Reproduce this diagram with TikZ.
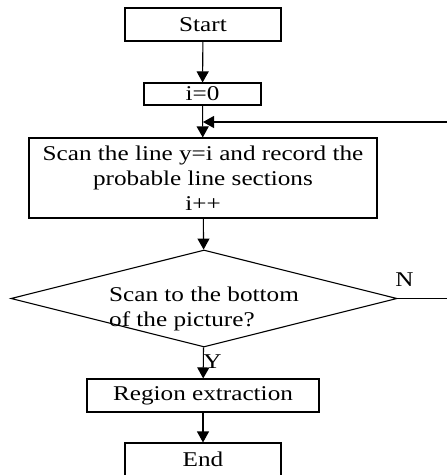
\documentclass[tikz,border=0pt]{standalone}
\usepackage{fontspec}
\setmainfont{Liberation Serif}[FakeStretch=1.2]
\usetikzlibrary{shapes.geometric,arrows.meta}
\begin{document}
\begin{tikzpicture}[x=1pt,y=-1pt,font=\fontsize{21}{25}\selectfont,
	box/.style={draw,line width=1.1pt,inner sep=0pt,align=center},
	decision/.style={draw,diamond,line width=1.1pt,inner sep=0pt,minimum width=386pt,minimum height=97pt},
	flow/.style={line width=1.1pt,-{Triangle[length=11pt,width=12pt]}}]
	\clip (0,0) rectangle (447,475);
	%Kaesten
	\node [box,minimum width=156pt,minimum height=33pt] (start) at (203,24.5) {Start};
	\node [box,minimum width=117pt,minimum height=22pt] (init) at (202.5,94) {i=0};
	\node [box,minimum width=348pt,minimum height=80pt] (scan) at (203,178) {Scan the line y=i and record the\\probable line sections\\i++};
	\node [decision] (ask) at (204,298.5) {};
	\node [align=left] (asktext) at (204,309) {Scan to the bottom\\of the picture?};
	\node [box,minimum width=232pt,minimum height=33pt] (region) at (203,395.5) {Region extraction};
	\node [box,minimum width=156pt,minimum height=33pt] (end) at (203,459.5) {End};
	%Pfeile
	\draw [flow] (start) -- (init);
	\draw [flow] (init) -- (scan);
	\draw [flow] (scan) -- (ask);
	\draw [flow] (ask) -- (region);
	\draw [flow] (region) -- (end);
	\node (yes) at (212.5,361.5) {Y};
	%Schleife
	\coordinate (back) at (452,298.5);
	\coordinate (join) at (203,122);
	\draw [flow] (ask.east) -- (back) |- (join);
	\node (no) at (404.5,279.5) {N};
\end{tikzpicture}
\end{document}
